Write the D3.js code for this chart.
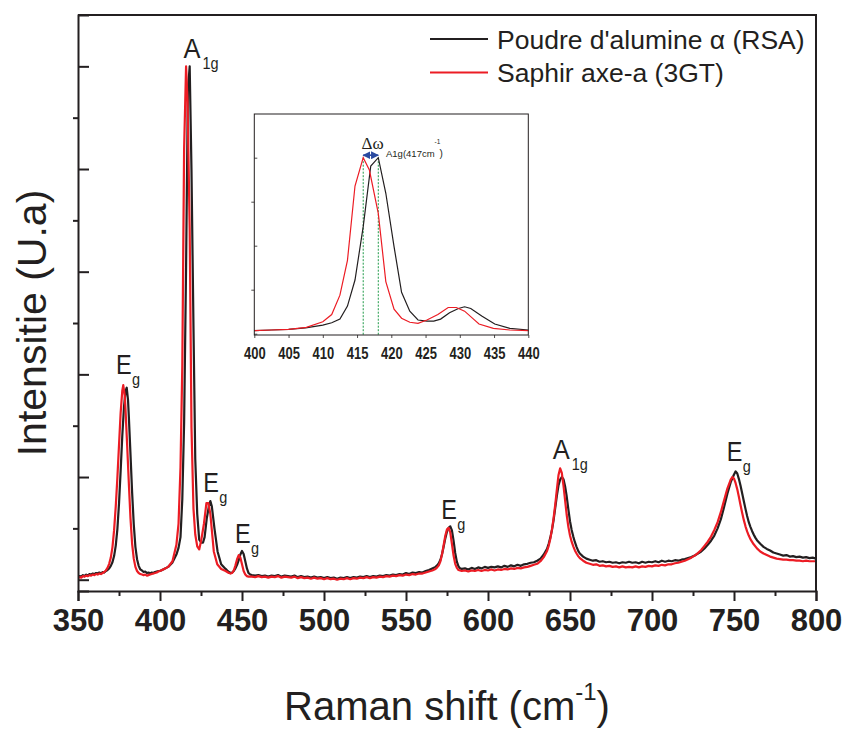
<!DOCTYPE html>
<html><head><meta charset="utf-8">
<script src="https://cdn.jsdelivr.net/npm/d3@7"></script>
<style>body{margin:0;background:#fff}svg{display:block}</style>
</head><body>
<svg id="chart" width="846" height="729"></svg>
<script>
// ---------- DATA ----------
const seriesNames = ["Poudre d'alumine \u03b1 (RSA)", "Saphir axe-a (3GT)"];
const xTickValues = [350,400,450,500,550,600,650,700,750,800];
const xMinorTickValues = [375,425,475,525,575,625,675,725,775];
const insetXTickValues = [400,405,410,415,420,425,430,435,440];
const xTitle = "Raman shift (cm";
const xTitleSup = "-1";
const yTitle = "Intensitie (U.a)";

// Raman shift (cm-1), intensity (normalised a.u., A1g = 10)
const powderSpectrum = [[350,0.04],[351,0.07],[352,0.06],[353,0.09],[354,0.07],[355,0.10],[356,0.08],[357,0.11],[358,0.10],[359,0.12],[360,0.11],[361,0.13],[362,0.12],[363,0.14],[364,0.12],[365,0.15],[366,0.14],[367,0.17],[368,0.19],[369,0.22],[370,0.27],[371,0.34],[372,0.46],[373,0.66],[374,0.98],[375,1.48],[376,2.12],[377,2.80],[378,3.35],[379,3.68],[379.7,3.74],[380.5,3.50],[381,3.18],[382,2.45],[383,1.70],[384,1.08],[385,0.64],[386,0.40],[387,0.27],[388,0.20],[389,0.18],[390,0.15],[391,0.16],[392,0.13],[393,0.14],[394,0.12],[395,0.14],[396,0.13],[397,0.15],[398,0.16],[399,0.17],
[400,0.17],[402.5,0.21],[405,0.25],[407.5,0.33],[410,0.49],[411.3,0.62],[412.5,0.83],[413.6,1.57],[414.7,3.05],[415.9,6.08],[417,9.53],[418.1,10.0],[419.2,7.98],[420.4,4.95],[421.5,2.35],[422.7,1.28],[423.9,0.78],[425.2,0.72],[426.2,0.72],[427.2,0.83],[428.5,1.19],[429.8,1.43],[430.7,1.53],[431.6,1.43],[433.2,1.00],[435.1,0.55],[437.3,0.30],[440,0.21],
[441,0.18],[442,0.15],[443,0.13],[444,0.14],[445,0.17],[446,0.22],[447,0.29],[448,0.38],[449,0.49],[450,0.56],[451,0.50],[452,0.36],[453,0.22],[454,0.13],[455,0.10],[456,0.09],[458,0.08],[460,0.09],[462,0.07],[464,0.08],[466,0.06],[468,0.08],[470,0.07],[472,0.09],[474,0.06],[476,0.08],[478,0.07],[480,0.06],[482,0.08],[484,0.05],[486,0.07],[488,0.05],[490,0.06],[492,0.04],[494,0.06],[496,0.04],[498,0.05],[500,0.03],[502,0.05],[504,0.03],[506,0.04],[508,0.02],[510,0.04],[512,0.03],[514,0.05],[516,0.03],[518,0.05],[520,0.04],[522,0.06],[524,0.05],[526,0.07],[528,0.05],[530,0.07],[532,0.06],[534,0.08],[536,0.07],[538,0.09],[540,0.08],[542,0.10],[544,0.09],[546,0.11],[548,0.10],[550,0.13],[552,0.11],[554,0.14],[556,0.13],[558,0.15],[560,0.14],[562,0.17],[564,0.19],[566,0.22],[568,0.25],[569,0.28],[570,0.32],[571,0.39],[572,0.50],[573,0.65],[574,0.81],[575,0.94],[576,1.01],[577,1.04],[578,0.96],[579,0.76],[580,0.52],[581,0.35],[582,0.26],[583,0.22],[584,0.21],[586,0.22],[588,0.20],[590,0.23],[592,0.21],[594,0.24],[596,0.22],[598,0.25],[600,0.23],[602,0.25],[604,0.24],[606,0.26],[608,0.24],[610,0.27],[612,0.25],[614,0.28],[616,0.26],[618,0.29],[620,0.27],[622,0.30],[624,0.31],[626,0.33],[628,0.34],[630,0.37],[632,0.41],[634,0.49],[636,0.60],[637,0.70],[638,0.82],[639,0.97],[640,1.16],[641,1.40],[642,1.64],[643,1.84],[644,1.95],[645,2.00],[646,1.96],[647,1.82],[648,1.62],[649,1.37],[650,1.14],[651,0.97],[652,0.84],[653,0.73],[654,0.64],[655,0.56],[656,0.51],[658,0.45],[660,0.41],[662,0.39],[664,0.37],[666,0.38],[668,0.35],[670,0.36],[672,0.34],[674,0.35],[676,0.33],[678,0.34],[680,0.32],[682,0.34],[684,0.33],[686,0.35],[688,0.33],[690,0.34],[692,0.32],[694,0.35],[696,0.33],[698,0.35],[700,0.34],[702,0.36],[704,0.34],[706,0.37],[708,0.35],[710,0.37],[712,0.36],[714,0.38],[716,0.37],[718,0.39],[720,0.40],[722,0.42],[724,0.44],[726,0.47],[728,0.51],[730,0.55],[732,0.61],[734,0.68],[736,0.76],[738,0.86],[740,1.00],[742,1.18],[744,1.42],[746,1.68],[748,1.90],[750,2.05],[751,2.11],[752,2.07],[753,1.96],[754,1.83],[755,1.68],[756,1.53],[757,1.38],[758,1.24],[759,1.12],[760,1.03],[761,0.95],[762,0.88],[763,0.82],[764,0.77],[766,0.70],[768,0.64],[770,0.60],[772,0.57],[774,0.53],[776,0.51],[778,0.49],[780,0.47],[782,0.48],[784,0.45],[786,0.46],[788,0.44],[790,0.45],[792,0.43],[794,0.44],[796,0.42],[798,0.43],[800,0.41]];

const sapphireSpectrum = [[350,0.03],[351,0.05],[352,0.04],[353,0.07],[354,0.06],[355,0.08],[356,0.07],[357,0.09],[358,0.08],[359,0.10],[360,0.09],[361,0.11],[362,0.10],[363,0.12],[364,0.11],[365,0.13],[366,0.15],[367,0.18],[368,0.23],[369,0.31],[370,0.43],[371,0.63],[372,0.96],[373,1.42],[374,1.98],[375,2.62],[376,3.25],[377,3.68],[377.6,3.79],[378.5,3.58],[379,3.30],[380,2.60],[381,1.88],[382,1.20],[383,0.70],[384,0.41],[385,0.25],[386,0.17],[387,0.13],[388,0.11],[389,0.10],[390,0.09],[391,0.10],[392,0.08],[393,0.09],[394,0.10],[395,0.11],[396,0.12],[397,0.13],[398,0.14],[399,0.16],
[400,0.17],[402.5,0.21],[405,0.25],[407.6,0.36],[410,0.68],[411.3,1.09],[412.5,2.19],[413.6,4.17],[414.7,8.39],[415.9,10.0],[416.8,9.3],[418.1,6.84],[419.2,2.96],[420.4,1.39],[421.5,0.88],[422.7,0.65],[423.9,0.59],[425.2,0.78],[426.8,1.09],[428.3,1.49],[429.5,1.49],[430.7,1.28],[431.8,0.90],[432.8,0.55],[434.9,0.30],[437.3,0.21],[440,0.17],
[441,0.15],[442,0.13],[443,0.12],[444,0.13],[445,0.18],[446,0.28],[447,0.40],[448,0.48],[449,0.43],[450,0.30],[451,0.17],[452,0.10],[453,0.07],[454,0.06],[456,0.06],[458,0.05],[460,0.07],[462,0.05],[464,0.06],[466,0.04],[468,0.06],[470,0.05],[472,0.07],[474,0.04],[476,0.06],[478,0.05],[480,0.04],[482,0.06],[484,0.03],[486,0.05],[488,0.03],[490,0.04],[492,0.02],[494,0.04],[496,0.02],[498,0.03],[500,0.01],[502,0.03],[504,0.01],[506,0.02],[508,0.00],[510,0.02],[512,0.01],[514,0.03],[516,0.01],[518,0.03],[520,0.02],[522,0.04],[524,0.03],[526,0.05],[528,0.03],[530,0.05],[532,0.04],[534,0.06],[536,0.05],[538,0.07],[540,0.06],[542,0.08],[544,0.07],[546,0.09],[548,0.08],[550,0.10],[552,0.09],[554,0.11],[556,0.10],[558,0.12],[560,0.12],[562,0.14],[564,0.16],[566,0.18],[568,0.21],[569,0.24],[570,0.28],[571,0.36],[572,0.50],[573,0.68],[574,0.86],[575,0.98],[576,1.01],[577,0.92],[578,0.70],[579,0.47],[580,0.31],[581,0.23],[582,0.19],[584,0.17],[586,0.18],[588,0.16],[590,0.18],[592,0.17],[594,0.19],[596,0.17],[598,0.19],[600,0.18],[602,0.20],[604,0.18],[606,0.20],[608,0.19],[610,0.21],[612,0.20],[614,0.22],[616,0.21],[618,0.23],[620,0.22],[622,0.24],[624,0.25],[626,0.27],[628,0.29],[630,0.31],[632,0.36],[634,0.44],[636,0.56],[637,0.66],[638,0.80],[639,0.98],[640,1.20],[641,1.46],[642,1.76],[643,2.04],[644,2.17],[645,2.08],[646,1.84],[647,1.55],[648,1.26],[649,1.03],[650,0.86],[651,0.74],[652,0.65],[653,0.57],[654,0.51],[655,0.46],[656,0.42],[658,0.37],[660,0.33],[662,0.31],[664,0.29],[666,0.30],[668,0.27],[670,0.28],[672,0.26],[674,0.27],[676,0.25],[678,0.26],[680,0.24],[682,0.26],[684,0.24],[686,0.25],[688,0.24],[690,0.26],[692,0.24],[694,0.26],[696,0.25],[698,0.27],[700,0.26],[702,0.28],[704,0.27],[706,0.29],[708,0.28],[710,0.30],[712,0.30],[714,0.32],[716,0.33],[718,0.35],[720,0.37],[722,0.40],[724,0.43],[726,0.47],[728,0.52],[730,0.58],[732,0.66],[734,0.74],[736,0.84],[738,0.97],[740,1.12],[742,1.32],[744,1.55],[746,1.78],[748,1.95],[749,2.00],[750,1.97],[751,1.88],[752,1.76],[753,1.61],[754,1.45],[755,1.30],[756,1.16],[757,1.04],[758,0.94],[759,0.86],[760,0.79],[762,0.69],[764,0.61],[766,0.55],[768,0.51],[770,0.48],[772,0.45],[774,0.43],[776,0.41],[778,0.40],[780,0.39],[782,0.39],[784,0.38],[786,0.38],[788,0.37],[790,0.37],[792,0.36],[794,0.37],[796,0.36],[798,0.36],[800,0.36]];

// peak assignments (mode name, subscript, peak position cm-1)
const peakModes = ["E","A","E","E","E","A","E"];
const peakSubs = ["g","1g","g","g","g","1g","g"];
const peakPositions = [378,418,430,450,577,645,751];
const insetAnnotation = {delta:"\u0394\u03c9", sub:"A1g(417cm", sup:"-1", close:")"};

// ---------- LAYOUT / STYLE ----------
const M = {left:78, right:816, top:15, bottom:591};
const BLACK = "#231f20", RED = "#ec1c24";
const FONT = "'Liberation Sans', Arial, Helvetica, sans-serif";
const svg = d3.select("#chart");
const defs = svg.append("defs");

const x = d3.scaleLinear().domain([350,800]).range([M.left, M.right]);
const y = d3.scaleLinear().domain([-0.22, 11.0]).range([M.bottom, M.top]);

const series = [
  {name: seriesNames[0], data: powderSpectrum, color: BLACK},
  {name: seriesNames[1], data: sapphireSpectrum, color: RED}
];

// curves
const line = d3.line().x(d=>x(d[0])).y(d=>y(d[1]));
defs.append("clipPath").attr("id","mainclip")
  .append("rect").attr("x",M.left).attr("y",M.top).attr("width",M.right-M.left).attr("height",M.bottom-M.top);
const gCurves = svg.append("g").attr("clip-path","url(#mainclip)");
series.forEach(s=>{
  gCurves.append("path").datum(s.data).attr("d",line)
    .attr("fill","none").attr("stroke",s.color).attr("stroke-width",2.2)
    .attr("stroke-linejoin","round");
});

// axes
const gx = svg.append("g").attr("transform",`translate(0,${M.bottom})`)
  .call(d3.axisBottom(x).tickValues(xTickValues).tickSize(10).tickPadding(8).tickFormat(d3.format("d")));
svg.append("g").attr("transform",`translate(0,${M.bottom})`)
  .call(d3.axisBottom(x).tickValues(xMinorTickValues).tickSize(5).tickFormat(""))
  .select(".domain").remove();
gx.selectAll("text").attr("font-family",FONT).attr("font-weight","bold").attr("font-size",31)
  .attr("fill",BLACK).attr("dy","0.71em");
const yMajor = [0,2,4,6,8,10], yMinor = [1,3,5,7,9];
svg.append("g").attr("transform",`translate(${M.left},0)`)
  .call(d3.axisLeft(y).tickValues(yMajor).tickSize(-11).tickFormat(""));
svg.append("g").attr("transform",`translate(${M.left},0)`)
  .call(d3.axisLeft(y).tickValues(yMinor).tickSize(5).tickFormat(""))
  .select(".domain").remove();
svg.selectAll(".domain").attr("stroke",BLACK).attr("stroke-width",2);
svg.selectAll(".tick line").attr("stroke",BLACK).attr("stroke-width",2);
// frame top & right
svg.append("path").attr("d",`M${M.left},${M.top}H${M.right}V${M.bottom}`)
  .attr("fill","none").attr("stroke",BLACK).attr("stroke-width",2);

// axis titles
const xt = svg.append("text").attr("x",x(575)).attr("y",720).attr("text-anchor","middle")
  .attr("font-family",FONT).attr("font-size",40).attr("fill",BLACK);
xt.append("tspan").text(xTitle);
xt.append("tspan").text(xTitleSup).attr("font-size",24).attr("dy",-20);
xt.append("tspan").text(")").attr("dy",20);
svg.append("text").attr("transform",`translate(46,${(M.top+M.bottom)/2+20}) rotate(-90)`)
  .attr("text-anchor","middle").attr("font-family",FONT).attr("font-size",41).attr("fill",BLACK)
  .text(yTitle);

// peak labels (anchored to the maximum of both spectra near each peak)
const labelOffsets = [[-8,-11],[-6,-8],[-6,-9],[-7,-8],[-9,-7],[-9,-9],[-9,-10]];
peakPositions.forEach((p,i)=>{
  let best = null;
  series.forEach(s=>s.data.forEach(d=>{ if (Math.abs(d[0]-p)<=3 && (!best || d[1]>best[1])) best=d; }));
  const px = x(p) + labelOffsets[i][0], py = y(best[1]) + labelOffsets[i][1];
  const isA = peakModes[i]==="A";
  const g = svg.append("g").attr("transform",`translate(${px},${py}) scale(1,${isA?1.12:1.18})`);
  g.append("text").attr("x",0).attr("y",0).attr("font-family",FONT).attr("font-size",isA?25.5:23.5)
    .attr("fill",BLACK).text(peakModes[i]);
  g.append("text").attr("x",isA?19:16).attr("y",isA?9.5:9).attr("font-family",FONT)
    .attr("font-size",14.5).attr("fill",BLACK).text(peakSubs[i]);
});

// legend
series.forEach((s,i)=>{
  const ly = 39 + i*33.5;
  svg.append("line").attr("x1",430).attr("x2",488).attr("y1",ly).attr("y2",ly)
    .attr("stroke",s.color).attr("stroke-width",2);
  svg.append("text").attr("x",497).attr("y",ly+9.5).attr("font-family",FONT).attr("font-size",26.5)
    .attr("fill",BLACK).text(s.name);
});

// ---------- INSET ----------
const I = {left:254.3, right:528.3, top:114, bottom:335};
const ix = d3.scaleLinear().domain([400,440]).range([I.left, I.right]);
const iy = d3.scaleLinear().domain([0,10]).range([333.7,157.7]);
const gi = svg.append("g");
gi.append("rect").attr("x",I.left).attr("y",I.top).attr("width",I.right-I.left).attr("height",I.bottom-I.top)
  .attr("fill","#fff");
defs.append("clipPath").attr("id","insetclip")
  .append("rect").attr("x",I.left).attr("y",I.top).attr("width",I.right-I.left).attr("height",I.bottom-I.top);
const iline = d3.line().x(d=>ix(d[0])).y(d=>iy(d[1]));
const gic = gi.append("g").attr("clip-path","url(#insetclip)");
// peak marker lines (positions of the A1g maxima)
const a1gPeaks = series.map(s=>{
  const sub = s.data.filter(d=>d[0]>=400&&d[0]<=440);
  return sub.reduce((a,b)=>b[1]>a[1]?b:a);
});
a1gPeaks.forEach(pk=>{
  gic.append("line").attr("x1",ix(pk[0])).attr("x2",ix(pk[0])).attr("y1",iy(pk[1])).attr("y2",I.bottom)
    .attr("stroke","#1f9a48").attr("stroke-width",1).attr("stroke-dasharray","2,1.5");
});
series.forEach(s=>{
  gic.append("path").datum(s.data.filter(d=>d[0]>=398&&d[0]<=442)).attr("d",iline)
    .attr("fill","none").attr("stroke",s.color).attr("stroke-width",1.2);
});
gi.append("rect").attr("x",I.left).attr("y",I.top).attr("width",I.right-I.left).attr("height",I.bottom-I.top)
  .attr("fill","none").attr("stroke",BLACK).attr("stroke-width",1);
const gix = gi.append("g").attr("transform",`translate(0,${I.bottom})`)
  .call(d3.axisBottom(ix).tickValues(insetXTickValues).tickSize(3).tickPadding(6).tickFormat(d3.format("d")));
gix.select(".domain").remove();
gix.selectAll(".tick line").attr("stroke",BLACK);
gix.selectAll("text").attr("font-family",FONT).attr("font-weight","bold").attr("font-size",13)
  .attr("fill",BLACK).attr("transform","scale(1,1.3)");
const giy = gi.append("g").attr("transform",`translate(${I.left},0)`)
  .call(d3.axisLeft(iy).tickValues([0,5,10]).tickSize(-3).tickFormat(""));
const giy2 = gi.append("g").attr("transform",`translate(${I.left},0)`)
  .call(d3.axisLeft(iy).tickValues([2.5,7.5]).tickSize(3).tickFormat(""));
giy.select(".domain").remove(); giy2.select(".domain").remove();
gi.selectAll(".tick line").attr("stroke",BLACK).attr("stroke-width",0.8);

// delta-omega arrow between the two A1g maxima
defs.append("marker").attr("id","arr").attr("viewBox","0 0 10 10").attr("refX",9).attr("refY",5)
  .attr("markerWidth",5).attr("markerHeight",5).attr("orient","auto-start-reverse")
  .append("path").attr("d","M0,0L10,5L0,10z").attr("fill","#2a4aa0");
const ay = iy(a1gPeaks[0][1]) - 2.5;
const pkX = a1gPeaks.map(p=>ix(p[0]));
gi.append("line").attr("x1",d3.min(pkX)).attr("x2",d3.max(pkX)).attr("y1",ay).attr("y2",ay)
  .attr("stroke","#2a4aa0").attr("stroke-width",1.6)
  .attr("marker-start","url(#arr)").attr("marker-end","url(#arr)");
gi.append("text").attr("x",361.5).attr("y",148.5).attr("font-family","'Liberation Serif', 'Times New Roman', serif")
  .attr("font-size",17).attr("fill",BLACK).text(insetAnnotation.delta);
gi.append("text").attr("x",386).attr("y",157).attr("font-family",FONT).attr("font-size",9.5)
  .attr("fill",BLACK).text(insetAnnotation.sub);
gi.append("text").attr("x",434.5).attr("y",143.5).attr("font-family",FONT).attr("font-size",6.5)
  .attr("fill",BLACK).text(insetAnnotation.sup);
gi.append("text").attr("x",439.5).attr("y",157).attr("font-family",FONT).attr("font-size",10)
  .attr("fill",BLACK).text(insetAnnotation.close);
</script>
</body></html>
